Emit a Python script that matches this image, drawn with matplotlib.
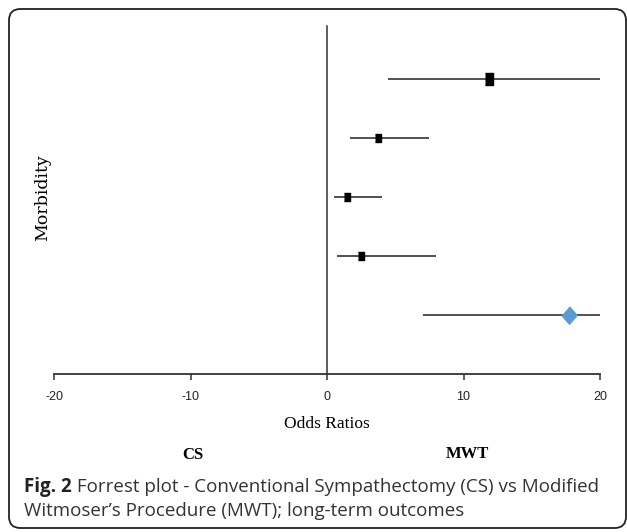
import matplotlib
matplotlib.use('Agg')
from matplotlib import pyplot as plt
from matplotlib.patches import FancyBboxPatch

# Data (odds ratios, 95% CI), top row first
rows = [5, 4, 3, 2, 1]
odds = [11.9, 3.7, 1.5, 2.5, 17.7]
ci_low = [4.5, 1.7, 0.5, 0.7, 7.0]
ci_high = [20.0, 7.5, 4.0, 8.0, 20.0]
xticks = [-20, -10, 0, 10, 20]

W, H = 627, 532
fig = plt.figure(figsize=(W / 100, H / 100), dpi=100)

def fx(px):
    return px / W

def fy(py):
    return 1 - py / H

# rounded frame round the whole figure
frame = FancyBboxPatch((fx(9), fy(528)), fx(617), fy(9) - fy(528), transform=fig.transFigure,
                       boxstyle='round,pad=0,rounding_size=0.018', fill=False,
                       edgecolor='#222222', linewidth=1.3, mutation_aspect=W / H)
fig.patches.append(frame)

ax = fig.add_axes([fx(54), fy(374), fx(600) - fx(54), fy(26) - fy(374)])
ax.set_xlim(-20, 20)
ax.set_ylim(0, 5.9)

line_col = '#333333'
ax.hlines(rows, ci_low, ci_high, color=line_col, linewidth=1.2, zorder=2)

box = [(-0.4, -0.5), (0.4, -0.5), (0.4, 0.5), (-0.4, 0.5)]
diamond = [(0, 1), (0.88, 0), (0, -1), (-0.88, 0)]
sizes = [8, 5.6, 5.6, 5.6]
for r, o, s in zip(rows[:4], odds[:4], sizes):
    ax.plot(o, r, marker=box, markersize=s, color='black', linestyle='none', zorder=3)
ax.plot(odds[4], rows[4], marker=diamond, markersize=12.5, color='#5B9BD5',
        linestyle='none', zorder=3)

for side in ['top', 'right']:
    ax.spines[side].set_visible(False)
ax.spines['left'].set_position(('data', 0))
ax.spines['left'].set_color(line_col)
ax.spines['bottom'].set_color(line_col)
ax.spines['left'].set_linewidth(1.1)
ax.spines['bottom'].set_linewidth(1.3)
ax.set_yticks([])
ax.set_xticks(xticks)
ax.set_xticklabels([str(t) for t in xticks], fontfamily='Liberation Sans', fontsize=9,
                   color='#222222')
ax.tick_params(axis='x', direction='out', length=4, width=1.1, color=line_col, pad=8)

fig.text(fx(327), fy(424), 'Odds Ratios', ha='center', va='center',
         fontfamily='Liberation Serif', fontsize=12.5)
fig.text(fx(43), fy(198), 'Morbidity', ha='center', va='center', rotation=90,
         fontfamily='DejaVu Serif', fontsize=12.5)
fig.text(fx(193), fy(455), 'CS', ha='center', va='center',
         fontfamily='Liberation Serif', fontsize=12, fontweight='bold')
fig.text(fx(467), fy(454), 'MWT', ha='center', va='center',
         fontfamily='Liberation Serif', fontsize=12, fontweight='bold')

cap = fig.text(fx(24), fy(487), 'Fig. 2', ha='left', va='center',
               fontfamily='Open Sans', fontsize=13.5, fontweight='bold', color='#222222')
ax.annotate(' Forrest plot - Conventional Sympathectomy (CS) vs Modified',
            xy=(1, 0.5), xycoords=cap, ha='left', va='center',
            fontfamily='Open Sans', fontsize=13.5, color='#333333', annotation_clip=False)
fig.text(fx(24), fy(511), 'Witmoser\u2019s Procedure (MWT); long-term outcomes', ha='left',
         va='center', fontfamily='Open Sans', fontsize=13.5, color='#333333')

plt.savefig('out.png', dpi=100)
plt.close()
